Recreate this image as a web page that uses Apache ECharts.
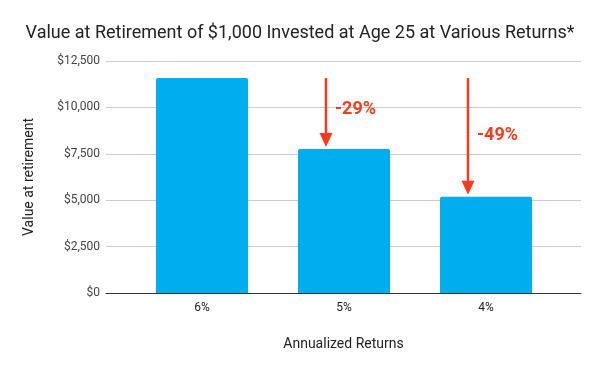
<!DOCTYPE html>
<html><head><meta charset="utf-8">
<script src="https://cdn.jsdelivr.net/npm/echarts@6/dist/echarts.min.js"></script>
<style>html,body{margin:0;padding:0;background:#fff}#c{width:600px;height:371px}</style>
</head><body><div id="c"></div>
<script>
const categories = ['6%', '5%', '4%'];
const values = [11580, 7760, 5180];
const arrowCats = [1, 2];
const arrowFrom = [11580, 11580];
const arrowTo = [7760, 5180];
const arrowLabels = ['-29%', '-49%'];
const yTicks = [0, 2500, 5000, 7500, 10000, 12500];

const RED = '#fb3a1c';
const chart = echarts.init(document.getElementById('c'), null, {renderer: 'canvas'});
const fmt = v => '$' + v.toLocaleString('en-US');
chart.setOption({
  animation: false,
  title: {text: 'Value at Retirement of $1,000 Invested at Age 25 at Various Returns*', left: 'center', top: 19,
    textStyle: {fontFamily: 'Roboto', fontSize: 18, fontWeight: 'normal', color: '#222'}},
  grid: [
    {left: 106, right: 19, top: 61, bottom: 78},
    {left: 131, right: 43, top: 61, bottom: 78}
  ],
  xAxis: [
    {gridIndex: 0, type: 'value', min: 0, max: 1, axisLabel: {show: false}, axisTick: {show: false}, splitLine: {show: false},
     axisLine: {show: true, lineStyle: {color: '#333', width: 1}},
     name: 'Annualized Returns', nameLocation: 'middle', nameGap: 44,
     nameTextStyle: {fontFamily: 'Roboto', fontSize: 14, color: '#222'}},
    {gridIndex: 1, type: 'category', data: categories, axisLine: {show: false}, axisTick: {show: false},
     axisLabel: {margin: 9, fontFamily: 'Roboto', fontSize: 12, color: '#222'}}
  ],
  yAxis: [
    {gridIndex: 0, type: 'value', min: yTicks[0], max: yTicks[yTicks.length-1], interval: 2500,
     axisLabel: {formatter: fmt, fontFamily: 'Roboto', fontSize: 12, color: '#444', margin: 6},
     axisLine: {show: false}, axisTick: {show: false},
     splitLine: {lineStyle: {color: '#cccccc', width: 1}},
     name: 'Value at retirement', nameLocation: 'middle', nameGap: 70, nameRotate: 90,
     nameTextStyle: {fontFamily: 'Roboto', fontSize: 14, color: '#222'}},
    {gridIndex: 1, type: 'value', min: yTicks[0], max: yTicks[yTicks.length-1], show: false, splitLine: {show: false}}
  ],
  series: [
    {type: 'bar', xAxisIndex: 1, yAxisIndex: 1, data: values, barWidth: 92,
     itemStyle: {color: '#00adee', borderRadius: [2, 2, 0, 0]}, z: 3},
    {type: 'custom', xAxisIndex: 1, yAxisIndex: 1, z: 5,
     data: arrowCats.map((c, i) => [c, arrowFrom[i], arrowTo[i]]),
     renderItem: function (params, api) {
       const i = params.dataIndex;
       const p0 = api.coord([api.value(0), api.value(1)]);
       const p1 = api.coord([api.value(0), api.value(2)]);
       const x = p0[0] - 18;
       const tipY = p1[1] - 2;
       const headH = 14, headW = 13;
       const midY = (p0[1] + tipY) / 2;
       return {type: 'group', children: [
         {type: 'line', shape: {x1: x, y1: p0[1], x2: x, y2: tipY - headH + 1}, style: {stroke: RED, lineWidth: 2.5}},
         {type: 'polygon', shape: {points: [[x - headW/2, tipY - headH], [x + headW/2, tipY - headH], [x, tipY]]}, style: {fill: RED}},
         {type: 'text', x: x + 9, y: midY - (i === 0 ? 3 : 1), style: {text: arrowLabels[i], fill: RED,
           font: 'bold 18px Roboto', verticalAlign: 'middle', align: 'left'}}
       ]};
     }}
  ]
});
</script></body></html>
